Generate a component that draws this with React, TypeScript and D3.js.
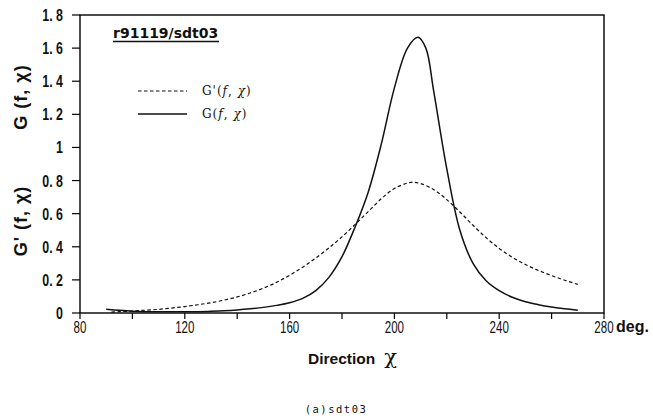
import React from "react";
import * as d3 from "d3";

// Direction (deg) sample points for G(f, χ)
const directions = [
  90, 95, 100, 105, 110, 115, 120, 125, 130, 135, 140, 145, 150, 155, 160, 165, 170, 175, 180,
  185, 190, 195, 200, 205, 209, 212, 215, 220, 225, 230, 235, 240, 245, 250, 255, 260, 265, 270,
];
// G(f, χ) – solid curve
const gValues = [
  0.022, 0.016, 0.011, 0.008, 0.007, 0.007, 0.007, 0.008, 0.01, 0.013, 0.018, 0.025, 0.034, 0.046,
  0.062, 0.088, 0.135, 0.215, 0.34, 0.52, 0.73, 1.02, 1.36, 1.6, 1.665, 1.6, 1.34, 0.87, 0.5, 0.3,
  0.195, 0.135, 0.095, 0.068, 0.05, 0.036, 0.025, 0.017,
];
// Direction (deg) sample points for G'(f, χ)
const gPrimeDirections = [
  92, 95, 100, 105, 110, 115, 120, 125, 130, 135, 140, 145, 150, 155, 160, 165, 170, 175, 180, 185,
  190, 195, 200, 205, 207, 210, 215, 220, 225, 230, 235, 240, 245, 250, 255, 260, 265, 270,
];
// G'(f, χ) – dashed curve
const gPrimeValues = [
  0.005, 0.008, 0.012, 0.017, 0.022, 0.03, 0.039, 0.05, 0.062, 0.078, 0.097, 0.121, 0.15, 0.185,
  0.228, 0.277, 0.332, 0.393, 0.46, 0.535, 0.612, 0.69, 0.752, 0.785, 0.79, 0.782, 0.745, 0.685,
  0.61, 0.53, 0.455, 0.39, 0.337, 0.293, 0.257, 0.226, 0.198, 0.173,
];

const xTicks = [80, 100, 120, 140, 160, 180, 200, 220, 240, 260, 280];
const xTickLabels = [80, 120, 160, 200, 240, 280];
const yTicks = [0, 0.2, 0.4, 0.6, 0.8, 1, 1.2, 1.4, 1.6, 1.8];

const title = "r91119/sdt03";
const caption = "(a)sdt03";

const W = 653;
const H = 419;
const left = 80;
const right = 604;
const top = 15;
const bottom = 313;

const sans = "'Liberation Sans', Arial, sans-serif";
const numFont = "'Liberation Sans', Arial, sans-serif";

export default function App() {
  const x = d3.scaleLinear().domain([80, 280]).range([left, right]);
  const y = d3.scaleLinear().domain([0, 1.8]).range([bottom, top]);

  const gPts: [number, number][] = directions.map((d, i) => [d, gValues[i]]);
  const gpPts: [number, number][] = gPrimeDirections.map((d, i) => [d, gPrimeValues[i]]);

  const line = d3
    .line<[number, number]>()
    .x((d) => x(d[0]))
    .y((d) => y(d[1]))
    .curve(d3.curveCatmullRom.alpha(0.5));

  const fmtY = (v: number) => (v === 0 ? "0" : v === 1 ? "1" : v.toFixed(1).replace(".", ". "));

  return (
    <svg
      width={W}
      height={H}
      viewBox={`0 0 ${W} ${H}`}
      style={{ position: "absolute", left: 0, top: 0, background: "#fff" }}
    >
      <rect x={0} y={0} width={W} height={H} fill="#fff" />
      {/* plot frame */}
      <rect
        x={left}
        y={top}
        width={right - left}
        height={bottom - top}
        fill="none"
        stroke="#000"
        strokeWidth={1.4}
      />

      {/* y ticks */}
      {yTicks.map((t) => (
        <g key={`y${t}`}>
          <line x1={left - 8} x2={left} y1={y(t)} y2={y(t)} stroke="#000" strokeWidth={1.2} />
          <text
            transform={`translate(${left - 17}, ${y(t)}) scale(0.75, 1)`}
            dy="0.36em"
            textAnchor="end"
            fontFamily={numFont}
            fontSize={16.5}
            fontWeight="bold"
            fill="#111"
          >
            {fmtY(t)}
          </text>
        </g>
      ))}

      {/* x ticks */}
      {xTicks.map((t) => (
        <line key={`x${t}`} x1={x(t)} x2={x(t)} y1={bottom} y2={bottom + 6} stroke="#000" strokeWidth={1.2} />
      ))}
      {xTickLabels.map((t) => (
        <text
          key={`xl${t}`}
          transform={`translate(${x(t)}, ${bottom + 20}) scale(0.68, 1)`}
          textAnchor="middle"
          fontFamily={numFont}
          fontSize={17}
          fill="#111"
        >
          {t}
        </text>
      ))}
      <text x={x(280) + 12} y={bottom + 19} fontFamily={sans} fontSize={16} fontWeight="bold" fill="#111">
        deg.
      </text>

      {/* curves */}
      <path d={line(gpPts) || ""} fill="none" stroke="#111" strokeWidth={1.2} strokeDasharray="3.5,2.5" />
      <path d={line(gPts) || ""} fill="none" stroke="#111" strokeWidth={1.5} />

      {/* title */}
      <text x={113} y={38} fontFamily="'DejaVu Sans', sans-serif" fontSize={14} fontWeight="bold" fill="#111">
        {title}
      </text>
      <line x1={113} x2={219} y1={41.5} y2={41.5} stroke="#111" strokeWidth={1.3} />

      {/* legend */}
      <line x1={138} x2={187} y1={91} y2={91} stroke="#111" strokeWidth={1.2} strokeDasharray="3.5,2.5" />
      <text x={202} y={95} fontFamily="'DejaVu Serif', serif" fontSize={12} letterSpacing={1} fill="#111">
        G'(<tspan fontStyle="italic">f</tspan>, <tspan fontStyle="italic">χ</tspan>)
      </text>
      <line x1={138} x2={187} y1={114} y2={114} stroke="#111" strokeWidth={1.3} />
      <text x={202} y={118} fontFamily="'DejaVu Serif', serif" fontSize={12} letterSpacing={1} fill="#111">
        G(<tspan fontStyle="italic">f</tspan>, <tspan fontStyle="italic">χ</tspan>)
      </text>

      {/* y axis titles */}
      <text
        transform="translate(27, 97) rotate(-90)"
        textAnchor="middle"
        fontFamily={sans}
        fontSize={18}
        fontWeight="bold"
        letterSpacing={1}
        fill="#111"
      >
        G (f, χ)
      </text>
      <text
        transform="translate(27, 221) rotate(-90)"
        textAnchor="middle"
        fontFamily={sans}
        fontSize={18}
        fontWeight="bold"
        letterSpacing={1}
        fill="#111"
      >
        G' (f, χ)
      </text>

      {/* x axis title */}
      <text x={308} y={364} fontFamily={sans} fontSize={15.5} fontWeight="bold" fill="#111">
        Direction
        <tspan dx={9} fontSize={21} fontWeight="normal" fontFamily="'DejaVu Serif', serif">χ</tspan>
      </text>

      {/* caption */}
      <text
        x={336}
        y={413}
        textAnchor="middle"
        fontFamily="'DejaVu Sans Mono', monospace"
        fontSize={10.5}
        letterSpacing={1.5}
        fill="#111"
      >
        {caption}
      </text>
    </svg>
  );
}
